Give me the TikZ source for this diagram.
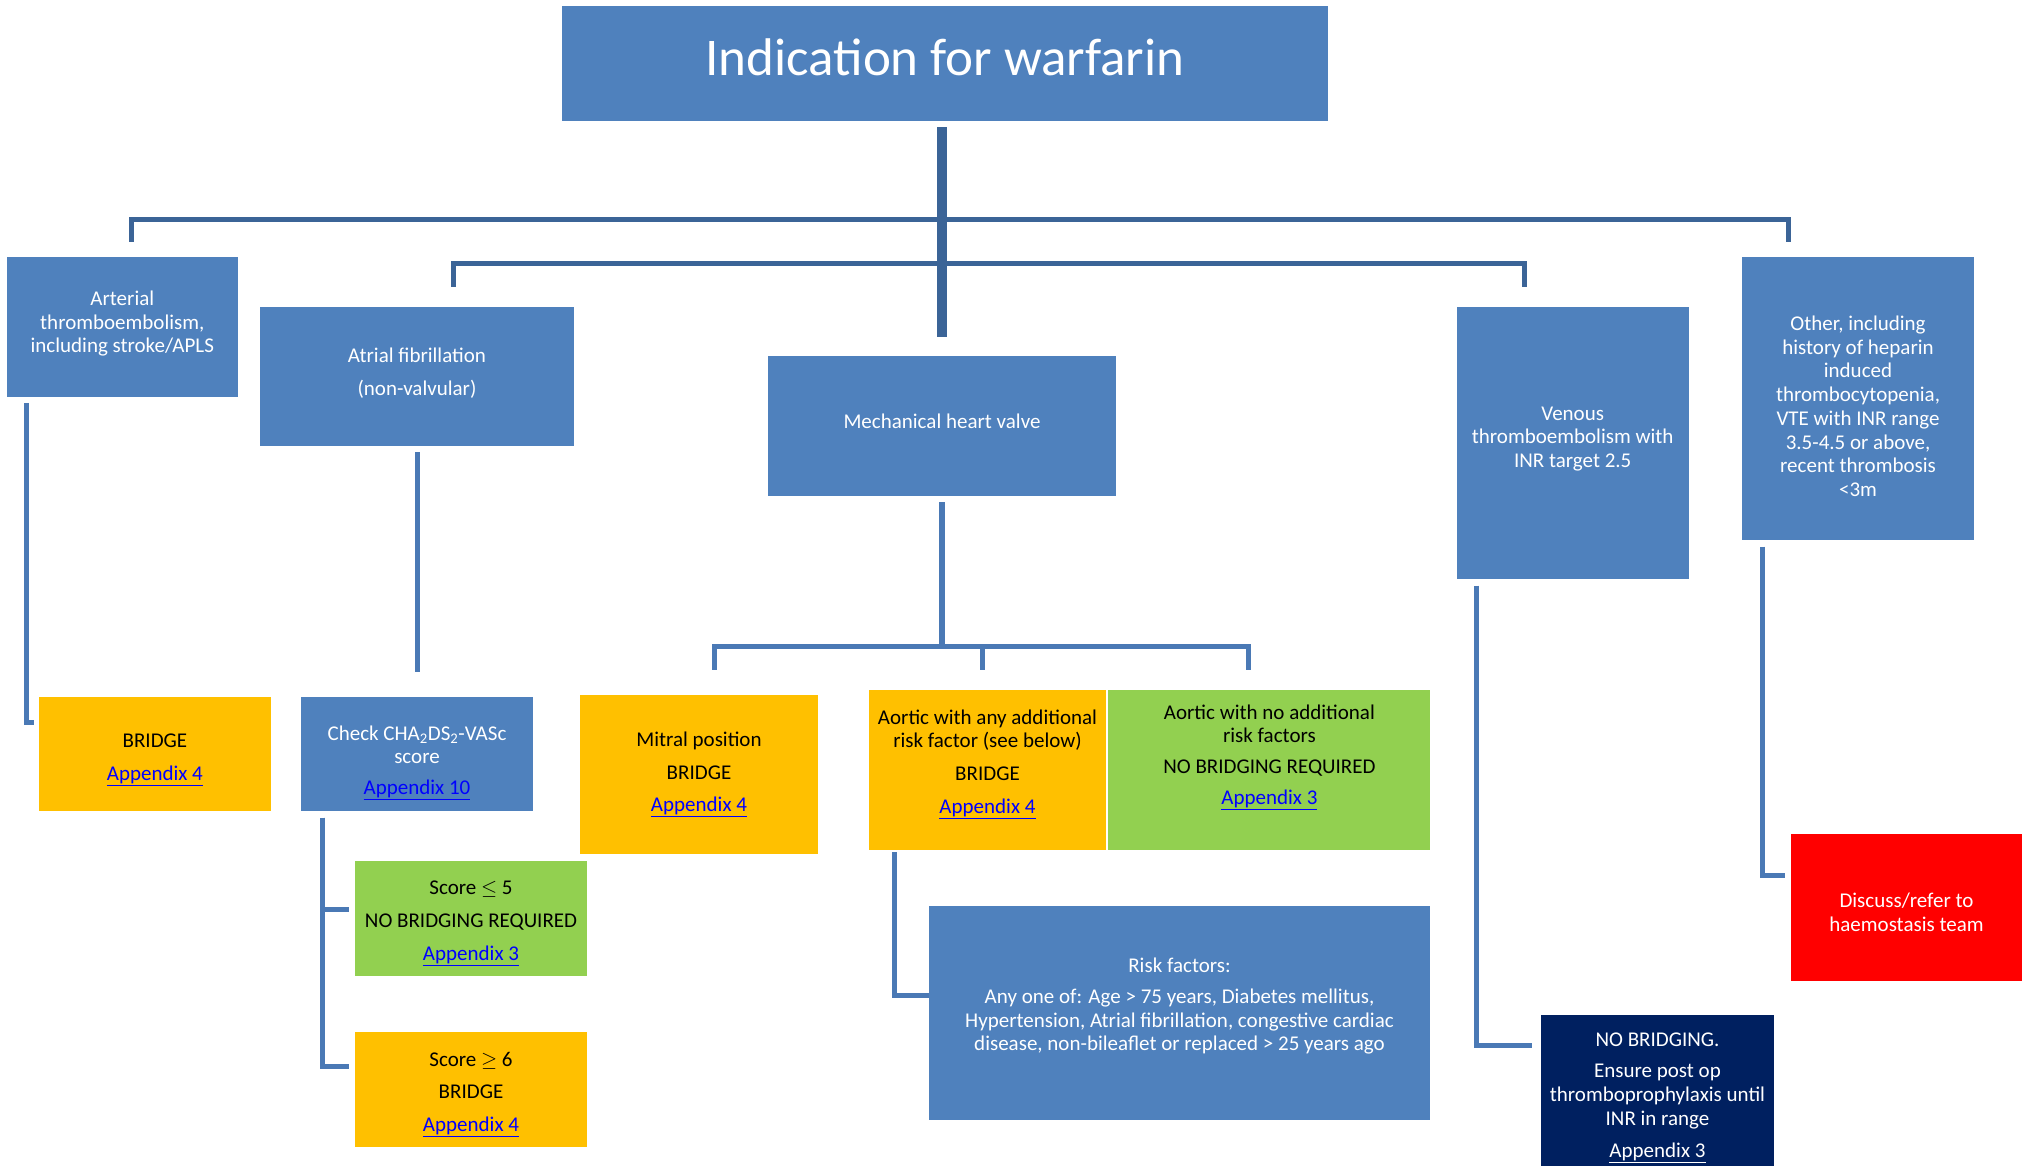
\documentclass[tikz,border=0pt]{standalone}
\usepackage{fontspec}
\setmainfont{Carlito}
\usepackage{xcolor}
\usepackage{tikz}
\usetikzlibrary{positioning}
\definecolor{boxblue}{HTML}{4F81BD}
\definecolor{barblue}{HTML}{3B6497}
\definecolor{lineblue}{HTML}{4A79B5}
\definecolor{amber}{HTML}{FFC000}
\definecolor{leaf}{HTML}{92D050}
\definecolor{navy}{HTML}{002060}
\definecolor{linkblue}{HTML}{0000FF}
\newcommand{\appx}[1]{\textcolor{linkblue}{\underline{Appendix #1}}}
\newcommand{\padtop}[2]{\raisebox{0pt}[\dimexpr\height+#1\relax]{#2}}
\tikzstyle{conn} = [line width=5pt, draw=lineblue]
\tikzstyle{bar} = [line width=5pt, draw=barblue]
\tikzstyle{trunk} = [line width=10pt, draw=barblue]
\tikzstyle{block} = [rectangle, inner sep=0pt, text centered, font=\fontsize{21}{23.7}\selectfont]
\tikzstyle{blueblock} = [block, fill=boxblue, text=white]
\tikzstyle{amberblock} = [block, fill=amber, text=black]
\tikzstyle{greenblock} = [block, fill=leaf, text=black]
\tikzstyle{redblock} = [block, fill=red, text=white]
\tikzstyle{navyblock} = [block, fill=navy, text=white]
\tikzset{every node/.style={align=center}}

\begin{document}
\begin{tikzpicture}[x=1pt, y=-1pt]
    \useasboundingbox (0,0) rectangle (2024,1166);

    \node (title) [blueblock, minimum width=766pt, minimum height=115pt, font=\fontsize{53}{60}\selectfont, text depth=13pt] at (945,64) {Indication for warfarin};
    \node (art)   [blueblock, minimum width=231.5pt, minimum height=139.5pt, text depth=10pt] at (122.3,326.8) {Arterial\\thromboembolism,\\including stroke/APLS};
    \node (af)    [blueblock, minimum width=314pt, minimum height=139pt, text depth=10pt] at (417,376.5) {Atrial fibrillation\\[9.5pt](non-valvular)};
    \node (mech)  [blueblock, minimum width=348pt, minimum height=140pt, text depth=10pt] at (942,426) {Mechanical heart valve};
    \node (ven)   [blueblock, minimum width=232pt, minimum height=272pt, text depth=12pt] at (1572.7,443) {Venous\\thromboembolism with\\INR target 2.5};
    \node (oth)   [blueblock, minimum width=232pt, minimum height=283pt] at (1858,398.5) {\padtop{15.5pt}{Other, including}\\history of heparin\\induced\\thrombocytopenia,\\VTE with INR range\\3.5-4.5 or above,\\recent thrombosis\\<3m};

    \node (br1)   [amberblock, minimum width=232pt, minimum height=114.5pt, text depth=0pt] at (154.9,754.2) {\padtop{6.5pt}{BRIDGE}\\[9pt]\appx{4}};
    \node (chk)   [blueblock, minimum width=232pt, minimum height=114.5pt, text depth=0pt] at (417,754.2) {\padtop{11.5pt}{Check CHA\textsubscript{2}DS\textsubscript{2}-VASc}\\score\\[7pt]\appx{10}};
    \node (sc5)   [greenblock, minimum width=232pt, minimum height=115pt, text depth=0pt] at (471,918.5) {\padtop{4pt}{Score $\leq$ 5}\\[9pt]NO BRIDGING REQUIRED\\[9pt]\appx{3}};
    \node (sc6)   [amberblock, minimum width=232pt, minimum height=115pt, text depth=0pt, below=56pt of sc5] {\padtop{4pt}{Score $\geq$ 6}\\[9pt]BRIDGE\\[9pt]\appx{4}};
    \node (mit)   [amberblock, minimum width=238pt, minimum height=159pt] at (699,774.5) {Mitral position\\[9pt]BRIDGE\\[9pt]\appx{4}};
    \node (aany)  [amberblock, minimum width=237pt, minimum height=160.5pt, text depth=17pt] at (987.5,770) {Aortic with any additional\\risk factor (see below)\\[9pt]BRIDGE\\[9pt]\appx{4}};
    \node (anone) [greenblock, minimum width=322pt, minimum height=160.5pt, text depth=31pt, right=2pt of aany] {Aortic with no additional\\risk factors\\[7pt]NO BRIDGING REQUIRED\\[7pt]\appx{3}};
    \node (risk)  [blueblock, minimum width=501pt, minimum height=214.6pt, text depth=17pt] at (1179.5,1013) {Risk factors:\\[7pt]Any one of: Age > 75 years, Diabetes mellitus,\\Hypertension, Atrial fibrillation, congestive cardiac\\disease, non-bileaflet or replaced > 25 years ago};
    \node (nb)    [navyblock, minimum width=233pt, minimum height=165pt] at (1657.5,1097.5) {NO BRIDGING.\\[8pt]Ensure post op\\thromboprophylaxis until\\INR in range\\[8pt]\underline{Appendix 3}};
    \node (red)   [redblock, minimum width=231pt, minimum height=147pt] at (1906.5,907.5) {\padtop{9pt}{Discuss/refer to}\\haemostasis team};

    \draw [trunk] ([xshift=-3pt,yshift=-5.5pt]title.south) -- ([yshift=18.5pt]mech.north);
    \draw [bar]   ([xshift=8.7pt,yshift=15pt]art.north) -- ++(0,-22.7) -| ([xshift=-69.4pt,yshift=15pt]oth.north);
    \draw [bar]   ([xshift=36pt,yshift=20pt]af.north) -- ++(0,-23) -| ([xshift=-48.1pt,yshift=20pt]ven.north);

    \draw [conn, line width=6pt] ([yshift=-6pt]mech.south) -- ++(0,145);
    \draw [conn]  ([xshift=15pt,yshift=25pt]mit.north) -- ++(0,-23) -| ([xshift=-21.4pt,yshift=20pt]anone.north);
    \draw [conn]  ([xshift=-5.5pt,yshift=20pt]aany.north) -- ++(0,-23);

    \draw [conn]  ([xshift=-95.8pt,yshift=-6pt]art.south) |- ([xshift=-5pt,yshift=31.5pt]br1.west);
    \draw [conn]  ([yshift=-6pt]af.south) -- ([yshift=25pt]chk.north);
    \draw [conn]  ([xshift=-95pt,yshift=-6pt]chk.south) |- ([xshift=-6pt,yshift=9.5pt]sc5.west);
    \draw [conn]  ([xshift=-95pt,yshift=-6pt]chk.south) |- ([xshift=-6pt,yshift=23.8pt]sc6.west);
    \draw [conn]  ([xshift=-93.5pt,yshift=-2pt]aany.south) |- ([yshift=17.7pt]risk.west);
    \draw [conn]  ([xshift=-95.9pt,yshift=-6.5pt]ven.south) |- ([xshift=-9pt,yshift=51.7pt]nb.west);
    \draw [conn]  ([xshift=-95.2pt,yshift=-6.5pt]oth.south) |- ([xshift=-6pt,yshift=32pt]red.west);
\end{tikzpicture}
\end{document}
